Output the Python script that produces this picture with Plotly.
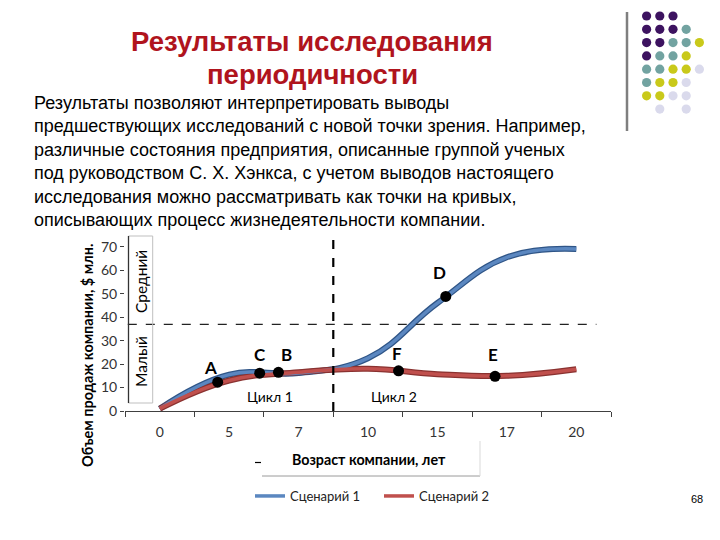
import plotly.graph_objects as go

# ---------------- data ----------------
categories = ["0", "5", "7", "10", "15", "17", "20"]
scenario1 = [1, 15.5, 16.2, 22.5, 46, 65.5, 69]
scenario2 = [1, 13, 16.5, 18, 15.7, 15, 17.8]
series_names = ["Сценарий 1", "Сценарий 2"]

point_labels = ["A", "C", "B", "D", "F", "E"]
point_x = [0.835, 1.44, 1.71, 4.12, 3.44, 4.83]   # position along category index
point_y = [12.3, 16.1, 16.5, 48.8, 17.1, 14.8]

y_ticks = [0, 10, 20, 30, 40, 50, 60, 70]
size_threshold = 36.9       # small / medium boundary
cycle_boundary = 2.5        # between "7" and "10"
cycle_labels = ["Цикл 1", "Цикл 2"]
cycle_label_x = [1.59, 3.38]
cycle_label_y = 6

title_lines = ["Результаты исследования", "периодичности"]
body_lines = [
    "Результаты позволяют интерпретировать выводы",
    "предшествующих исследований с новой точки зрения. Например,",
    "различные состояния предприятия, описанные группой ученых",
    "под руководством С. Х. Хэнкса, с учетом выводов настоящего",
    "исследования можно рассматривать как точки на кривых,",
    "описывающих процесс жизнедеятельности компании.",
]
y_title = "Объем продаж компании, $ млн."
x_title = "Возраст компании, лет"
page_number = "68"

# ---------------- styles ----------------
W, H = 720, 540
BLUE, BLUE_DARK = "#5b87c0", "#2f5587"
RED, RED_DARK = "#c0504d", "#8a3230"
CHART_FONT = "Lato"
label_shift = [(-7, 15), (0, 19), (8, 18), (-6, 24), (-2, 17), (-2, 22)]

def px(x):
    return x / W

def py(y):
    return 1 - y / H

x_idx = list(range(len(categories)))

fig = go.Figure()

# shadow (outline) lines
for vals, col in [(scenario1, BLUE_DARK), (scenario2, RED_DARK)]:
    fig.add_trace(go.Scatter(x=x_idx, y=vals, mode="lines",
                             line=dict(color=col, width=6, shape="spline", smoothing=1.2),
                             showlegend=False, hoverinfo="skip"))
for vals, col, name in [(scenario1, BLUE, series_names[0]), (scenario2, RED, series_names[1])]:
    fig.add_trace(go.Scatter(x=x_idx, y=vals, mode="lines", name=name,
                             line=dict(color=col, width=3.5, shape="spline", smoothing=1.2)))

# state points
fig.add_trace(go.Scatter(x=point_x, y=point_y, mode="markers",
                         marker=dict(color="black", size=11),
                         showlegend=False, hoverinfo="skip"))

def ann(x, y, text, size, family=CHART_FONT, color="black", xref="paper", yref="paper",
        xanchor="center", yanchor="middle", **kw):
    return dict(x=x, y=y, xref=xref, yref=yref, text=text, showarrow=False,
                xanchor=xanchor, yanchor=yanchor,
                font=dict(family=family, size=size, color=color), **kw)

annotations = []
for lab, x, y, (dx, dy) in zip(point_labels, point_x, point_y, label_shift):
    annotations.append(ann(x, y, f"<b>{lab}</b>", 17, xref="x", yref="y", xshift=dx, yshift=dy))
for lab, x in zip(cycle_labels, cycle_label_x):
    annotations.append(ann(x, cycle_label_y, lab, 14, xref="x", yref="y"))

# size labels in the box
annotations.append(ann(px(141), py(362), "Малый", 15.5, textangle=-90))
annotations.append(ann(px(141), py(282), "Средний", 15.5, textangle=-90))

# axis titles
annotations.append(ann(px(87), py(355), f"<b>{y_title}</b>", 14.5, textangle=-90))
annotations.append(ann(px(369), py(459), f"<b>{x_title}</b>", 14.3))

# slide title and body
annotations.append(ann(px(312), py(42), f"<b>{title_lines[0]}</b>", 27.5,
                       family="Liberation Sans", color="#b0141d"))
annotations.append(ann(px(312), py(75), f"<b>{title_lines[1]}</b>", 27.5,
                       family="Liberation Sans", color="#b0141d"))
for i, line in enumerate(body_lines):
    annotations.append(ann(px(32), py(103 + i * 23.4), line, 18,
                           family="Liberation Sans", xanchor="left"))
annotations.append(ann(px(697), py(499), page_number, 11, family="Liberation Sans"))

shapes = []
# dashed reference lines
shapes.append(dict(type="line", xref="x", yref="y", x0=cycle_boundary, x1=cycle_boundary,
                   y0=0, y1=75.5, line=dict(color="black", width=2.2, dash="dash")))
shapes.append(dict(type="line", xref="x", yref="y", x0=-0.46, x1=6.29,
                   y0=size_threshold, y1=size_threshold,
                   line=dict(color="#222222", width=1.3, dash="dash")))
# size box
shapes.append(dict(type="rect", xref="paper", yref="paper", x0=px(128.5), x1=px(152.7),
                   y0=py(403), y1=py(236), line=dict(color="#bfbfbf", width=1)))
shapes.append(dict(type="line", xref="paper", yref="paper", x0=px(128.5), x1=px(128.5),
                   y0=py(403), y1=py(236), line=dict(color="#333333", width=1.3)))
# x title box decoration
shapes.append(dict(type="line", xref="paper", yref="paper", x0=px(262), x1=px(480),
                   y0=py(476), y1=py(476), line=dict(color="#9a9a9a", width=1)))
shapes.append(dict(type="line", xref="paper", yref="paper", x0=px(480), x1=px(480),
                   y0=py(476), y1=py(441), line=dict(color="#d9d9d9", width=1)))
shapes.append(dict(type="line", xref="paper", yref="paper", x0=px(255), x1=px(261),
                   y0=py(462.5), y1=py(462.5), line=dict(color="black", width=1.2)))

# decorative corner: vertical bar + dot grid
shapes.append(dict(type="line", xref="paper", yref="paper", x0=px(627), x1=px(627),
                   y0=py(131), y1=py(12), line=dict(color="#7f7f7f", width=2.5)))
dot_colors = {"P": "#3d1360", "T": "#72a3a1", "Y": "#c9c91a", "L": "#dadaec"}
dot_grid = [
    "PPP..",
    "PPPT.",
    "PPTTY",
    "PTTY.",
    "TTYYL",
    "TYYL.",
    "YYLL.",
    ".L.L.",
]
for r, row in enumerate(dot_grid):
    for c, ch in enumerate(row):
        if ch == ".":
            continue
        cx, cy, rad = 646.6 + 13.2 * c, 16 + 13.3 * r, 4.6
        shapes.append(dict(type="circle", xref="paper", yref="paper",
                           x0=px(cx - rad), x1=px(cx + rad), y0=py(cy + rad), y1=py(cy - rad),
                           fillcolor=dot_colors[ch], line=dict(width=0)))

fig.update_layout(
    width=W, height=H,
    margin=dict(l=0, r=0, t=0, b=0, autoexpand=False),
    paper_bgcolor="white", plot_bgcolor="white",
    annotations=annotations, shapes=shapes,
    showlegend=True,
    legend=dict(orientation="h", x=px(250), y=py(481), xanchor="left", yanchor="top",
                entrywidth=84, entrywidthmode="pixels", bgcolor="rgba(0,0,0,0)",
                font=dict(family=CHART_FONT, size=13, color="#222222"),
                tracegroupgap=0),
    xaxis=dict(domain=[px(125), px(611)], range=[-0.5, 6.5], automargin=False,
               tickmode="array", tickvals=x_idx, ticktext=categories,
               ticks="", showgrid=False, zeroline=False,
               showline=True, linecolor="#404040", linewidth=1.2,
               tickfont=dict(family=CHART_FONT, size=14, color="#333333"),
               ticklabelstandoff=8,
               minor=dict(tickmode="array", tickvals=[i - 0.5 for i in range(len(categories) + 1)],
                          ticks="outside", ticklen=5, tickcolor="#404040", tickwidth=1.2,
                          showgrid=False)),
    yaxis=dict(domain=[py(411), py(235)], range=[0, 75], automargin=False,
               tickmode="array", tickvals=y_ticks,
               ticks="outside", ticklen=4, tickcolor="#404040",
               showgrid=False, zeroline=False, showline=False,
               tickfont=dict(family=CHART_FONT, size=14, color="#333333")),
)

fig.write_html("out.html")
